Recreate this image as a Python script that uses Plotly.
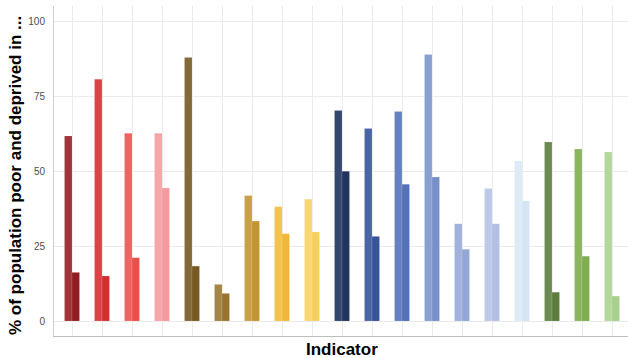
import plotly.graph_objects as go

indicators = [f"Indicator {i}" for i in range(1, 20)]
poor = [61.7, 80.6, 62.6, 62.6, 87.8, 12.2, 41.8, 38.1, 40.6,
        70.2, 64.2, 69.8, 88.8, 32.4, 44.2, 53.3, 59.7, 57.3, 56.3]
deprived = [16.2, 15.0, 21.1, 44.3, 18.3, 9.2, 33.3, 29.1, 29.7,
            49.9, 28.2, 45.6, 48.0, 23.9, 32.4, 40.0, 9.6, 21.6, 8.3]
colors_poor = ["#A0343A", "#DC4347", "#EF6461", "#F6A5A8", "#82693A", "#A48545",
               "#C9A04A", "#F2C44D", "#F8D773", "#34476E", "#4A65A3", "#6581BF",
               "#889FD0", "#A1B3DC", "#BEC9E7", "#DDEBF7", "#6D8B50", "#8BB560", "#B4D79C"]
colors_dep = ["#8F1D21", "#D32F2F", "#EB4F4B", "#F49A9E", "#765A22", "#977430",
              "#C29531", "#F0B73A", "#F7CF5F", "#23355F", "#37539A", "#5372B8",
              "#7890CA", "#93A7D6", "#B4C0E3", "#D5E5F5", "#5C7D3B", "#7FAD50", "#A8D08D"]
x_title = "Indicator"
y_title = "% of population poor and deprived in ..."

xpos = list(range(1, len(indicators) + 1))

fig = go.Figure()
fig.add_trace(go.Bar(x=xpos, y=poor, name="Poor",
                     marker=dict(color=colors_poor,
                                 line=dict(color="rgba(255,255,255,0.25)", width=0.5)),
                     showlegend=False))
fig.add_trace(go.Bar(x=xpos, y=deprived, name="Deprived",
                     marker=dict(color=colors_dep,
                                 line=dict(color="rgba(255,255,255,0.25)", width=0.5)),
                     showlegend=False))

fig.update_layout(
    width=628, height=358,
    margin=dict(l=54, r=0, t=6, b=22, autoexpand=False),
    paper_bgcolor="white", plot_bgcolor="white",
    barmode="group", bargap=0.5, bargroupgap=0,
    font=dict(family="Liberation Sans, Arial, sans-serif"),
    xaxis=dict(range=[0.4, 0.4 + 574 / 30], tickvals=xpos, showticklabels=False,
               ticks="", showgrid=True, gridcolor="#EBEBEB", gridwidth=1,
               showline=True, linecolor="#BEBEBE", linewidth=1, zeroline=False,
               automargin=False),
    yaxis=dict(range=[-5, 105], tickvals=[0, 25, 50, 75, 100], ticks="",
               tickfont=dict(size=10, color="#4D4D4D"), ticklabelstandoff=6,
               showgrid=True, gridcolor="#EBEBEB", gridwidth=1, zeroline=False,
               showline=True, linecolor="#D0D0D0", linewidth=1, automargin=False),
    annotations=[
        dict(text=f"<b>{x_title}</b>", xref="paper", yref="paper",
             x=(342 - 54) / 574, y=0, yshift=-13, xanchor="center", yanchor="middle",
             showarrow=False, font=dict(size=17, color="black")),
        dict(text=f"<b>{y_title}</b>", xref="paper", yref="paper",
             x=0, xshift=-39, y=(336 - 176) / 330, xanchor="center", yanchor="middle",
             textangle=-90, showarrow=False, font=dict(size=17, color="black")),
    ],
)

fig.write_html("out.html", config={"displayModeBar": False},
               post_script="document.body.style.margin='0';document.body.style.padding='0';")
